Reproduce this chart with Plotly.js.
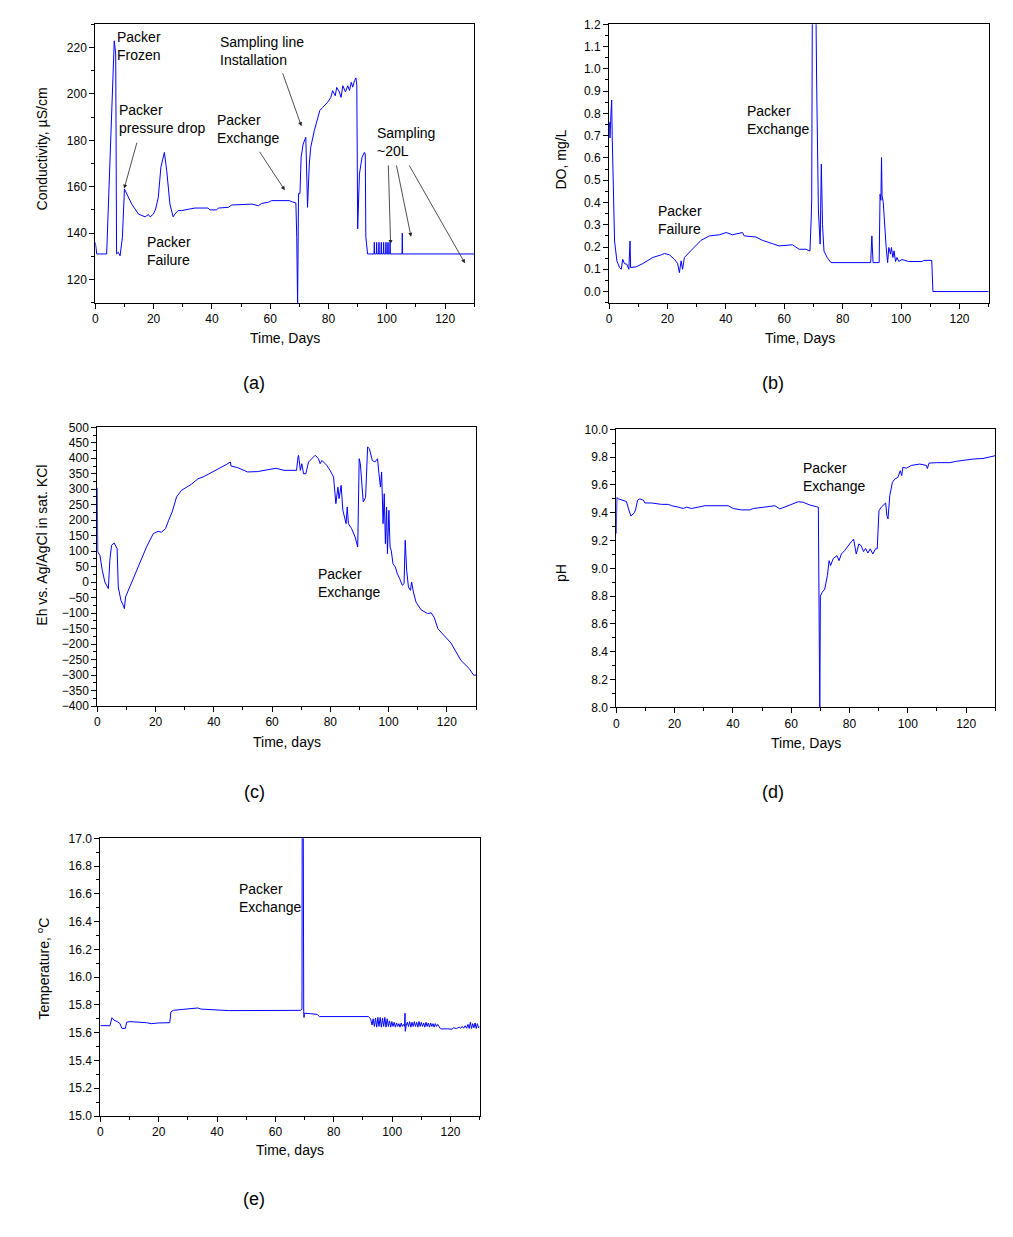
<!DOCTYPE html>
<html>
<head>
<meta charset="utf-8">
<script src="https://cdn.plot.ly/plotly-3.0.1.min.js"></script>
<style>html,body{margin:0;padding:0;background:#fff;}#chart{width:1013px;height:1237px;}</style>
</head>
<body>
<div id="chart"></div>
<script>
// (a) Conductivity, uS/cm
const condDays = [0, 0.5, 3.9, 6.5, 7.0, 7.3, 7.9, 8.5, 9.3, 10.0, 12.5, 14.8, 17.1, 18.2, 18.8, 19.9, 20.7, 21.6, 22.5, 23.7,
  24.5, 25.6, 26.7, 27.3, 28.4, 29.6, 32.4, 34.2, 38.7, 39.3, 41.6, 42.2, 45.6, 46.8, 53.7, 55.9, 57.1, 59.4, 60.5, 66.5,
  67.5, 68.5, 68.8, 69.1, 69.4, 69.7, 70.2, 70.6, 71.3, 72.2, 72.8, 73.4, 73.9, 75.1, 76.2, 77.0, 78.0, 79.7, 80.8, 81.4,
  82.3, 82.8, 83.7, 84.3, 84.9, 85.8, 86.6, 87.2, 87.8, 88.3, 88.9, 89.4, 89.7, 90.0, 90.6, 91.5, 92.3, 92.6, 92.8, 93.4,
  95.6, 95.7, 95.8, 96.4, 96.5, 96.6, 97.2, 97.3, 97.4, 98.0, 98.1, 98.2, 98.8, 98.9, 99.0, 99.6, 99.7, 99.8,
  100.3, 100.4, 100.5, 101.0, 101.1, 101.2, 105.2, 105.3, 105.4, 130];
const condVals = [136, 131, 131, 222.9, 217.2, 131, 131.7, 130.2, 138.2, 159, 152.5, 148.2, 147, 148, 147, 148.2, 150.4, 155.4, 168.4, 174.8,
  166.9, 152.5, 147, 148.2, 149.7, 149.7, 150.4, 150.8, 150.8, 150, 150, 150.8, 151.1, 152.1, 152.5, 151.8, 152.8, 153.3, 154, 154,
  153.5, 153.2, 153, 138.2, 108, 157, 157, 172.7, 178.4, 181.3, 151.1, 169.8, 177, 184.1, 189.9, 192.8, 194.2, 196.4, 198.5, 201.4,
  199.2, 202.8, 200.9, 198.5, 203.5, 200.9, 203.5, 201.5, 205, 202.9, 205.7, 206.9, 203.5, 141.8, 165.5, 172.7, 174.8, 174.1, 138.2, 131,
  131, 136, 131, 131, 136, 131, 131, 136, 131, 131, 136, 131, 131, 136, 131, 131, 136, 131,
  131, 136, 131, 131, 136, 131, 131, 140, 131, 131];

// (b) DO, mg/L
const doDays = [0.2, 0.34, 0.56, 0.91, 1.1, 1.4, 1.9, 2.7, 3.6, 4.2, 4.7, 5.3, 6.1, 6.8, 7.2, 7.4, 8.2, 9.3, 11.6, 15.0,
  17.9, 19.0, 20.7, 22.4, 23.5, 24.1, 24.7, 25.2, 25.8, 27.5, 29.8, 31.5, 34.4, 37.8, 40.1, 42.3, 45.7, 46.3, 50.3, 52.5,
  56.0, 58.2, 62.8, 65.1, 67.4, 68.8, 69.2, 69.4, 69.7, 70.6, 71.1, 71.7, 72.3, 72.7, 73.1, 73.6, 74.7, 76.0, 89.6, 90.0,
  90.4, 92.5, 92.8, 93.1, 93.3, 93.5, 93.9, 94.5, 94.9, 95.4, 95.8, 96.4, 96.7, 97.2, 97.6, 98.1, 98.6, 99.2, 100.3, 102.6,
  107.2, 107.7, 110.5, 110.9, 130];
const doVals = [0.76, 0.69, 0.767, 0.86, 0.7, 0.48, 0.227, 0.138, 0.108, 0.1, 0.145, 0.125, 0.123, 0.1, 0.227, 0.108, 0.108, 0.111, 0.126, 0.153,
  0.165, 0.171, 0.165, 0.145, 0.126, 0.085, 0.138, 0.1, 0.153, 0.175, 0.205, 0.23, 0.25, 0.255, 0.265, 0.255, 0.265, 0.25, 0.245, 0.23,
  0.215, 0.205, 0.21, 0.19, 0.19, 0.182, 0.317, 0.407, 1.6, 1.6, 0.932, 0.362, 0.213, 0.572, 0.3, 0.182, 0.153, 0.13, 0.13, 0.25,
  0.13, 0.13, 0.437, 0.41, 0.602, 0.43, 0.40, 0.243, 0.198, 0.13, 0.198, 0.168, 0.198, 0.153, 0.183, 0.135, 0.153, 0.135, 0.144, 0.135,
  0.135, 0.14, 0.14, 0, 0];

// (c) Eh vs. Ag/AgCl
const ehDays = [0, 0.15, 0.9, 1.7, 2.6, 3.8, 4.3, 4.9, 5.8, 6.8, 7.2, 8.1, 8.9, 9.3, 9.7, 11.8, 14.1, 16.9, 19.2, 20.9,
  22.0, 23.4, 24.5, 25.7, 27.2, 28.9, 32.3, 34.6, 36.3, 38.5, 41.9, 44.2, 45.7, 45.9, 48.2, 51.6, 55.0, 61.3, 64.1, 68.4,
  68.9, 69.1, 69.7, 70.2, 70.8, 71.6, 72.5, 73.1, 74.8, 75.9, 76.5, 77.1, 78.8, 79.9, 81.1, 81.9, 82.6, 83.0, 83.7, 84.3,
  84.8, 85.4, 85.8, 86.2, 87.3, 88.5, 89.4, 89.9, 90.3, 90.8, 91.3, 92.1, 92.8, 93.4, 94.4, 95.3, 96.2, 96.7, 97.2, 97.6,
  98.1, 98.5, 98.9, 99.3, 99.6, 100.1, 100.5, 100.9, 101.5, 102.3, 103.0, 103.8, 104.7, 105.3, 105.7, 106.2, 106.8, 107.5, 107.9, 108.5,
  109.4, 111.1, 113.4, 114.6, 115.7, 116.9, 119.1, 121.4, 124.8, 127.7, 129.2, 130];
const ehVals = [305, 97.4, 86.7, 38.3, 0.5, -21.1, 70.5, 119, 126.4, 108, -15.7, -58.6, -74.8, -85.7, -47.9, 0.5, 48.9, 113.5, 156.4, 164.2,
  161, 172.6, 199.7, 226.5, 275, 296.6, 316, 334, 339.5, 350.2, 368.6, 379.3, 388, 375, 369.7, 355.7, 357, 367.6, 361, 361,
  404, 409.6, 361, 382.5, 350, 350, 388, 393.4, 409.6, 399, 382.5, 393, 377, 361, 339.5, 253.3, 307, 269.5, 312.7, 232,
  210, 188.8, 242.7, 188.8, 172.6, 145.8, 113.5, 398.6, 382.5, 307, 258.8, 274, 436.4, 431, 393, 388, 398.6, 350, 307, 355.7,
  188.8, 285.6, 124.2, 242.7, 91.9, 232, 113.5, 102.7, 59.6, 48.9, 27.3, 11.1, -10.2, -5, 135.1, 38.3, -15.7, -26.5, 0.5, -31.8,
  -64.1, -88.9, -101.8, -99, -114.8, -150.3, -171.6, -196.5, -252.3, -279.5, -300.8, -300];

// (d) pH
const phDays = [0, 0.2, 0.7, 2.4, 3.5, 4.3, 5.0, 6.2, 6.6, 7.3, 8.1, 9.3, 9.8, 12.1, 15.5, 17.8, 19.0, 21.3, 23.0, 24.1,
  25.8, 28.1, 30.4, 38.4, 40.1, 43.0, 45.8, 47.0, 51.0, 54.4, 56.1, 57.8, 59.5, 62.4, 64.1, 66.4, 68.7, 69.3, 69.6, 69.8,
  70.0, 70.6, 71.5, 72.4, 73.0, 73.5, 74.4, 75.7, 76.4, 77.2, 78.3, 79.5, 80.6, 81.4, 81.9, 82.3, 83.2, 84.0, 84.8, 85.5,
  86.3, 87.1, 88.0, 88.9, 89.5, 90.1, 90.9, 92.4, 92.8, 93.2, 93.8, 94.7, 95.5, 96.6, 97.4, 97.9, 98.3, 99.5, 101.2, 104.1,
  106.4, 106.7, 107.3, 109.8, 114.4, 116.7, 122.4, 125.8, 130];
const phVals = [9.25, 9.51, 9.50, 9.49, 9.48, 9.42, 9.376, 9.40, 9.42, 9.49, 9.50, 9.49, 9.47, 9.47, 9.46, 9.46, 9.45, 9.44, 9.43, 9.44,
  9.43, 9.44, 9.45, 9.45, 9.43, 9.42, 9.42, 9.43, 9.44, 9.45, 9.427, 9.44, 9.455, 9.479, 9.475, 9.455, 9.443, 9.44, 8.563, 7.95,
  8.80, 8.827, 8.85, 8.947, 9.055, 9.02, 9.07, 9.091, 9.055, 9.103, 9.127, 9.163, 9.191, 9.21, 9.15, 9.103, 9.175, 9.163, 9.12, 9.143,
  9.11, 9.14, 9.103, 9.14, 9.14, 9.415, 9.44, 9.47, 9.38, 9.355, 9.522, 9.618, 9.642, 9.654, 9.702, 9.667, 9.727, 9.72, 9.74, 9.75,
  9.74, 9.718, 9.757, 9.76, 9.76, 9.77, 9.786, 9.79, 9.81];

// (e) Temperature, C
const tempDays = [0, 3.3, 4.0, 4.7, 5.8, 6.7, 7.4, 8.6, 9.0, 10.1, 15.8, 17.5, 19.8, 23.8, 24.2, 25.1, 28.3, 33.4, 34.5, 39.7,
  44.2, 68.6, 69.1, 69.2, 69.5, 69.7, 69.8, 69.9, 72.0, 74.3, 75.1, 91.9, 92.6, 93.1,
  93.5, 93.9, 94.3, 94.7, 95.1, 95.5, 95.9, 96.3, 96.7, 97.1, 97.5, 97.9, 98.3, 98.7, 99.1, 99.5, 99.9, 100.3, 100.7, 101.1,
  101.5, 101.9, 102.3, 102.7, 103.1, 103.5, 103.9, 104.3, 104.4, 104.5, 104.8,
  105.2, 105.6, 106.0, 106.4, 106.8, 107.2, 107.6, 108.0, 108.4, 108.8, 109.2, 109.6, 110.0, 110.4, 110.8, 111.2, 111.6, 112.0,
  112.4, 112.8, 113.2, 113.6, 114.0, 114.4, 114.8, 115.2, 115.6,
  116.5, 117, 119, 120.5, 121, 122, 123, 123.5, 124, 124.5, 125, 125.5, 126, 126.4, 126.8, 127.2, 127.6, 128, 128.4, 128.8,
  129.2, 129.6, 130];
const tempVals = [15.651, 15.65, 15.708, 15.69, 15.68, 15.667, 15.631, 15.631, 15.675, 15.68, 15.672, 15.665, 15.67, 15.672, 15.751, 15.761, 15.768, 15.778, 15.77, 15.763,
  15.759, 15.761, 15.768, 17.5, 17.5, 15.75, 15.71, 15.74, 15.737, 15.732, 15.716, 15.716, 15.70, 15.655,
  15.70, 15.645, 15.705, 15.64, 15.71, 15.645, 15.71, 15.64, 15.705, 15.645, 15.71, 15.64, 15.70, 15.645, 15.685, 15.64, 15.68, 15.645, 15.675, 15.64,
  15.67, 15.645, 15.665, 15.64, 15.67, 15.645, 15.66, 15.645, 15.74, 15.61, 15.65,
  15.675, 15.645, 15.68, 15.64, 15.675, 15.645, 15.68, 15.645, 15.675, 15.64, 15.68, 15.645, 15.675, 15.645, 15.67, 15.64, 15.675, 15.645,
  15.67, 15.64, 15.67, 15.645, 15.665, 15.64, 15.665, 15.645, 15.66,
  15.63, 15.627, 15.628, 15.625, 15.635, 15.63, 15.64, 15.632, 15.645, 15.632, 15.65, 15.632, 15.66, 15.63, 15.675, 15.63, 15.665, 15.635, 15.67, 15.63,
  15.665, 15.635, 15.645];

const FONT = 'Liberation Sans, Arial, sans-serif';
const W = 1013, H = 1237;
const px = v => v / W;
const py = v => 1 - v / H;

const lineStyle = {color: '#0000ff', width: 1};
const traces = [
  {x: condDays, y: condVals, xaxis: 'x', yaxis: 'y'},
  {x: doDays, y: doVals, xaxis: 'x2', yaxis: 'y2'},
  {x: ehDays, y: ehVals, xaxis: 'x3', yaxis: 'y3'},
  {x: phDays, y: phVals, xaxis: 'x4', yaxis: 'y4'},
  {x: tempDays, y: tempVals, xaxis: 'x5', yaxis: 'y5'}
].map(t => Object.assign(t, {type: 'scatter', mode: 'lines', line: lineStyle, showlegend: false, hoverinfo: 'skip'}));

function axis(extra) {
  return Object.assign({
    showline: true, linecolor: 'black', linewidth: 1, mirror: true,
    ticks: 'outside', ticklen: 5, tickwidth: 1, tickcolor: 'black',
    showgrid: false, zeroline: false, fixedrange: true,
    tickfont: {family: FONT, size: 12, color: 'black'}
  }, extra);
}
function xax(domain, anchor) {
  return axis({domain: domain, anchor: anchor, range: [0, 130], tick0: 0, dtick: 20,
    minor: {ticks: 'outside', ticklen: 3, dtick: 10, tickcolor: 'black', tickwidth: 1}});
}
function yax(domain, anchor, range, dtick, minorDtick, fmt) {
  return axis({domain: domain, anchor: anchor, range: range, tick0: 0, dtick: dtick, tickformat: fmt,
    minor: {ticks: 'outside', ticklen: 3, dtick: minorDtick, tickcolor: 'black', tickwidth: 1}});
}

const dA = {x: [px(95.3), px(474.3)], y: [py(302.7), py(24.3)]};
const dB = {x: [px(609), px(988.7)], y: [py(302.7), py(24.3)]};
const dC = {x: [px(97.3), px(476)], y: [py(706), py(427.3)]};
const dD = {x: [px(616.3), px(995.3)], y: [py(707.3), py(429.3)]};
const dE = {x: [px(100.3), px(479.7)], y: [py(1116), py(838.3)]};

const annFont = {family: FONT, size: 14, color: 'black'};
function txt(xr, yr, x, y, text) {
  return {xref: xr, yref: yr, x: x, y: y, text: text, showarrow: false, xanchor: 'left', yanchor: 'middle', align: 'left',
    xshift: -2, font: annFont};
}
function arrow(tx, ty, hx, hy) {
  return {xref: 'x', yref: 'y', axref: 'x', ayref: 'y', x: hx, y: hy, ax: tx, ay: ty, text: '', showarrow: true,
    arrowhead: 2, arrowsize: 1, arrowwidth: 0.8, arrowcolor: '#222', standoff: 0, startstandoff: 0};
}
function ptext(x, y, text, angle, size) {
  return {xref: 'paper', yref: 'paper', x: px(x), y: py(y), text: text, showarrow: false, xanchor: 'center', yanchor: 'middle',
    textangle: angle || 0, font: {family: FONT, size: size || 14, color: 'black'}};
}

const annotations = [
  txt('x', 'y', 7.4, 220.6, 'Packer<br>Frozen'),
  txt('x', 'y', 8.1, 189, 'Packer<br>pressure drop'),
  txt('x', 'y', 42.8, 218.7, 'Sampling line<br>Installation'),
  txt('x', 'y', 41.7, 184.7, 'Packer<br>Exchange'),
  txt('x', 'y', 17.7, 132.5, 'Packer<br>Failure'),
  txt('x', 'y', 96.6, 179.3, 'Sampling<br>~20L'),
  arrow(14.4, 179.6, 9.9, 159.2),
  arrow(56, 175.7, 65, 158.5),
  arrow(64.1, 209.5, 70.7, 186.1),
  arrow(100.5, 169.8, 101.3, 135.3),
  arrow(103.2, 169.8, 108.3, 138.4),
  arrow(107.4, 169.8, 126.8, 127),
  txt('x2', 'y2', 47.1, 0.772, 'Packer<br>Exchange'),
  txt('x2', 'y2', 16.7, 0.323, 'Packer<br>Failure'),
  txt('x3', 'y3', 75.9, -4.3, 'Packer<br>Exchange'),
  txt('x4', 'y4', 64, 9.66, 'Packer<br>Exchange'),
  txt('x5', 'y5', 47.6, 16.567, 'Packer<br>Exchange'),
  ptext(284.7, 337.7, 'Time, Days'),
  ptext(41.7, 148.7, 'Conductivity, µS/cm', -90),
  ptext(799.7, 337.7, 'Time, Days'),
  ptext(560, 159.5, 'DO, mg/L', -90),
  ptext(286.7, 741.7, 'Time, days'),
  ptext(41.7, 545, 'Eh vs. Ag/AgCl in sat. KCl', -90),
  ptext(805.7, 742.7, 'Time, Days'),
  ptext(561.7, 573.3, 'pH', -90),
  ptext(290, 1150, 'Time, days'),
  ptext(43.3, 968.3, 'Temperature, <sup>o</sup>C', -90),
  ptext(254, 383, '(a)', 0, 18),
  ptext(773, 383, '(b)', 0, 18),
  ptext(254, 792, '(c)', 0, 18),
  ptext(773, 792, '(d)', 0, 18),
  ptext(254, 1199, '(e)', 0, 18)
];

const layout = {
  width: W, height: H,
  margin: {l: 0, r: 0, t: 0, b: 0},
  paper_bgcolor: 'white', plot_bgcolor: 'white',
  font: {family: FONT, color: 'black'},
  showlegend: false,
  xaxis: xax(dA.x, 'y'),
  yaxis: yax(dA.y, 'x', [110, 230], 20, 10, 'd'),
  xaxis2: xax(dB.x, 'y2'),
  yaxis2: yax(dB.y, 'x2', [-0.05, 1.2], 0.1, 0.05, '.1f'),
  xaxis3: xax(dC.x, 'y3'),
  yaxis3: yax(dC.y, 'x3', [-400, 500], 50, 25, 'd'),
  xaxis4: xax(dD.x, 'y4'),
  yaxis4: yax(dD.y, 'x4', [8, 10], 0.2, 0.1, '.1f'),
  xaxis5: xax(dE.x, 'y5'),
  yaxis5: yax(dE.y, 'x5', [15, 17], 0.2, 0.1, '.1f'),
  annotations: annotations
};

Plotly.newPlot('chart', traces, layout, {staticPlot: true, displayModeBar: false});
</script>
</body>
</html>
